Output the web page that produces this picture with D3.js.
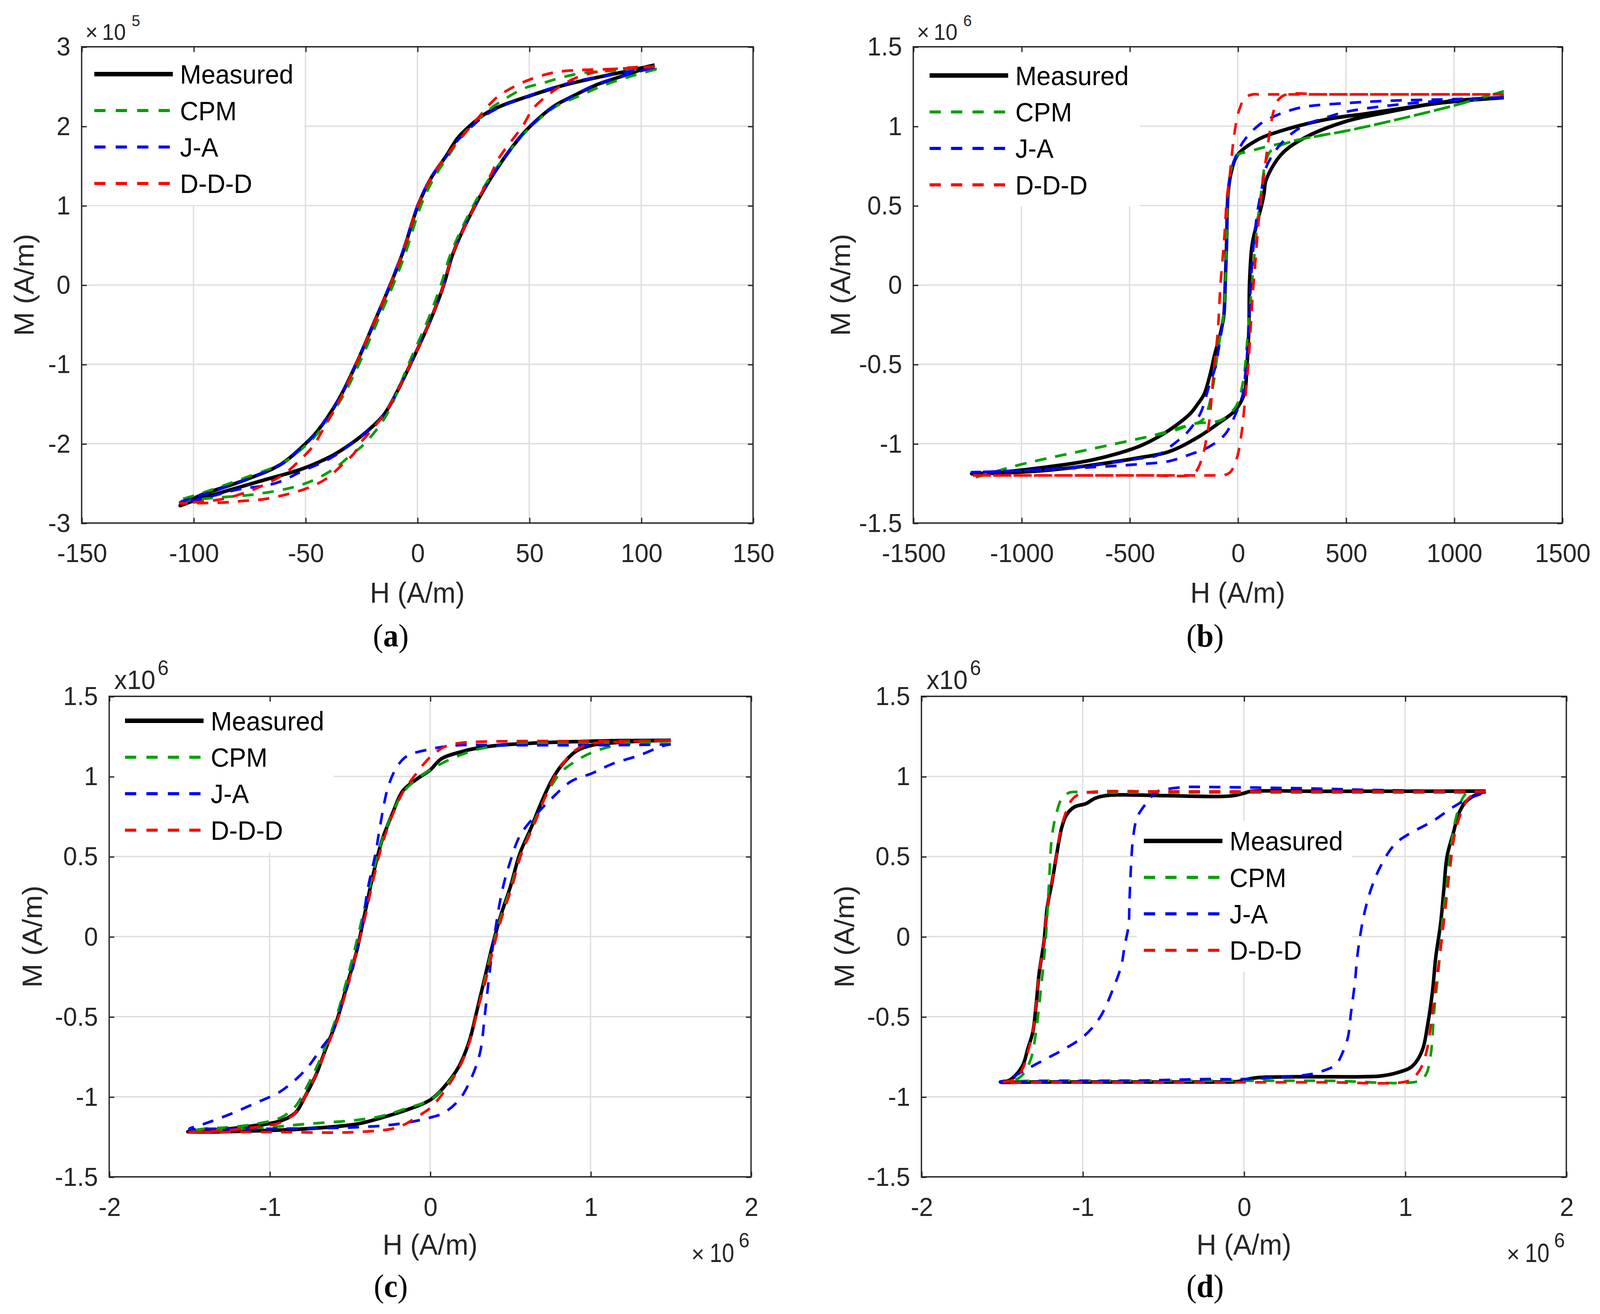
<!DOCTYPE html>
<html>
<head>
<meta charset="utf-8">
<script src="https://cdn.jsdelivr.net/npm/d3@7"></script>
<style>
  html, body { margin: 0; padding: 0; background: #fff; overflow: hidden; }
  #chart { display: block; width: 100vw; height: 100vh; }
  text { font-family: "Liberation Sans", Arial, Helvetica, sans-serif; }
</style>
</head>
<body>
<svg id="chart"></svg>
<script>
// series
var seriesNames = ["Measured", "CPM", "J-A", "D-D-D"];
var seriesColors = ["#000000", "#00a000", "#0000ff", "#ff0000"];

// tick values
var aHTicks = [-150, -100, -50, 0, 50, 100, 150];
var aMTicks = [-3, -2, -1, 0, 1, 2, 3];
var bHTicks = [-1500, -1000, -500, 0, 500, 1000, 1500];
var bMTicks = [-1.5, -1, -0.5, 0, 0.5, 1, 1.5];
var cdHTicks = [-2, -1, 0, 1, 2];
var cdMTicks = [-1.5, -1, -0.5, 0, 0.5, 1, 1.5];

// (a) H in A/m, M in 1e5 A/m  -- loop: descending branch then ascending branch
var aMeasured = [[106,2.77],[95,2.7],[83,2.63],[66,2.52],[50.5,2.385],[37,2.25],[30,2.15],[23.3,2.0],[18,1.85],[13,1.63],[6.2,1.35],[0.3,1.0],[-6.6,0.4],[-12.1,0],[-18.5,-0.42],[-27.4,-1.0],[-35.1,-1.44],[-44.9,-1.85],[-50,-2.0],[-61,-2.26],[-77.3,-2.46],[-97.7,-2.66],[-106,-2.78],
  [-100,-2.72],[-85.8,-2.6],[-68.7,-2.46],[-51.7,-2.32],[-38,-2.15],[-29.6,-2.0],[-22.7,-1.85],[-15.1,-1.64],[-10.8,-1.44],[-3.1,-1.0],[6.2,-0.42],[11.8,0],[16,0.4],[25.8,1.0],[35,1.44],[45,1.83],[50.5,2.0],[61,2.25],[70,2.385],[80,2.52],[91.5,2.63],[106,2.77]];
var aCPM = [[107,2.72],[90,2.7],[74,2.67],[64,2.61],[57,2.55],[48,2.48],[39.5,2.35],[32.6,2.22],[26.7,2.07],[20,1.88],[14,1.63],[7.5,1.35],[1.6,1.0],[-5.3,0.4],[-10.8,0],[-17.2,-0.42],[-26.1,-1.0],[-34,-1.44],[-44,-1.85],[-49,-2.0],[-60,-2.24],[-77,-2.43],[-98,-2.64],[-107,-2.72],
  [-90,-2.68],[-73,-2.64],[-54.3,-2.54],[-44.9,-2.44],[-36.4,-2.3],[-30,-2.15],[-23.6,-2.0],[-13.8,-1.64],[-4,-1.0],[5,-0.42],[10.5,0],[15,0.4],[25,1.0],[34.5,1.44],[45,1.82],[51,2.0],[62,2.25],[72.7,2.385],[82,2.5],[92,2.6],[107,2.72]];
var aJA = [[106,2.74],[95,2.69],[83,2.63],[75,2.59],[66,2.53],[50.5,2.39],[37,2.24],[30,2.13],[23.3,1.97],[18,1.82],[13,1.62],[6.2,1.36],[0.3,1.02],[-6.6,0.42],[-12.1,0.02],[-18.5,-0.42],[-27.4,-1.0],[-35.1,-1.44],[-44.9,-1.85],[-50,-2.0],[-61,-2.26],[-77.3,-2.46],[-97.7,-2.66],[-106,-2.74],
  [-91.7,-2.66],[-80.7,-2.58],[-63.6,-2.5],[-51.7,-2.35],[-38,-2.17],[-29.6,-2.0],[-22.7,-1.85],[-15.1,-1.64],[-10.8,-1.44],[-3.1,-1.0],[6.2,-0.42],[11.8,0],[16,0.4],[25.8,1.0],[35,1.44],[45,1.83],[50.5,2.0],[61,2.25],[70,2.385],[80,2.52],[91.5,2.63],[106,2.74]];
var aDDD = [[106,2.75],[87,2.72],[68,2.7],[60,2.67],[50.5,2.59],[42,2.48],[35,2.35],[27,2.1],[21,1.9],[13,1.63],[6.2,1.35],[0.3,1.0],[-6.6,0.4],[-12.1,0],[-18.5,-0.42],[-27.4,-1.0],[-33,-1.35],[-36.4,-1.54],[-41.5,-1.79],[-46.6,-2.03],[-52.6,-2.21],[-59.4,-2.38],[-67,-2.5],[-77.3,-2.62],[-87.5,-2.7],[-96,-2.73],[-106,-2.75],
  [-85.8,-2.74],[-77.3,-2.72],[-68.7,-2.7],[-58.5,-2.64],[-49.1,-2.56],[-40.6,-2.44],[-33.4,-2.26],[-27.9,-2.11],[-25.7,-2.0],[-22,-1.88],[-15.1,-1.64],[-10.8,-1.44],[-3.1,-1.0],[6.2,-0.42],[11.8,0],[16,0.4],[25.8,1.0],[33,1.4],[36.5,1.6],[47,2.0],[52,2.23],[61.6,2.46],[71,2.61],[83,2.7],[96,2.74],[106,2.75]];

// (b) H in A/m, M in 1e6 A/m
var bMeasured = [[1230,1.18],[1000,1.16],[800,1.12],[600,1.08],[400,1.04],[200,0.97],[100,0.92],[0,0.82],[-30,0.71],[-45,0.57],[-52,0.25],[-58,0],[-65,-0.2],[-81,-0.31],[-107,-0.44],[-127,-0.56],[-156,-0.69],[-185,-0.75],[-219,-0.81],[-271,-0.87],[-346,-0.94],[-444,-1.01],[-550,-1.06],[-700,-1.11],[-900,-1.15],[-1100,-1.18],[-1230,-1.19],
  [-1100,-1.185],[-900,-1.17],[-700,-1.14],[-461,-1.09],[-317,-1.05],[-185,-0.96],[-87,-0.87],[-12,-0.79],[29,-0.69],[43,-0.5],[52,-0.25],[54,0],[66,0.25],[87,0.38],[110,0.5],[121,0.57],[131,0.66],[200,0.82],[300,0.92],[500,1.03],[700,1.09],[900,1.14],[1230,1.18]];
var bCPM = [[1230,1.22],[1000,1.13],[700,1.03],[500,0.97],[300,0.92],[200,0.89],[130,0.87],[50,0.84],[0,0.82],[-30,0.73],[-45,0.57],[-52,0.25],[-58,0],[-66,-0.2],[-82,-0.33],[-98,-0.48],[-112,-0.62],[-133,-0.76],[-150,-0.83],[-173,-0.86],[-271,-0.9],[-369,-0.94],[-461,-0.97],[-700,-1.04],[-1000,-1.13],[-1230,-1.22],
  [-1000,-1.13],[-700,-1.04],[-461,-0.97],[-300,-0.92],[-202,-0.875],[-75,-0.85],[-6,-0.76],[23,-0.62],[35,-0.5],[46,-0.31],[58,-0.12],[69,0.06],[81,0.25],[95,0.44],[110,0.6],[125,0.75],[150,0.84],[200,0.88],[300,0.92],[500,0.97],[700,1.03],[1000,1.13],[1230,1.22]];
var bJA = [[1230,1.18],[1000,1.17],[700,1.16],[500,1.145],[300,1.12],[200,1.08],[150,1.05],[100,1.01],[35,0.92],[0,0.84],[-30,0.72],[-45,0.57],[-52,0.25],[-58,0],[-66,-0.2],[-89,-0.41],[-104,-0.52],[-133,-0.64],[-173,-0.81],[-231,-0.925],[-294,-1.0],[-375,-1.075],[-461,-1.095],[-700,-1.14],[-1000,-1.17],[-1230,-1.18],
  [-1000,-1.17],[-700,-1.15],[-461,-1.13],[-317,-1.11],[-225,-1.07],[-133,-1.02],[-58,-0.94],[-12,-0.82],[23,-0.69],[35,-0.56],[43,-0.44],[52,-0.25],[58,-0.06],[66,0.13],[78,0.32],[92,0.47],[110,0.6],[131,0.74],[200,0.89],[300,1.0],[400,1.05],[500,1.09],[700,1.13],[1000,1.165],[1230,1.18]];
var bDDD = [[1230,1.2],[400,1.2],[100,1.2],[69,1.2],[35,1.18],[6,1.1],[-17,0.94],[-30,0.78],[-40,0.65],[-49,0.566],[-63,0.28],[-80,0],[-92,-0.29],[-103,-0.44],[-112,-0.56],[-120,-0.69],[-130,-0.84],[-145,-0.97],[-167,-1.1],[-196,-1.18],[-230,-1.2],[-400,-1.2],[-1230,-1.2],
  [-400,-1.2],[-100,-1.2],[-69,-1.2],[-35,-1.18],[-6,-1.1],[17,-0.94],[29,-0.79],[40,-0.64],[49,-0.5],[58,-0.31],[66,-0.12],[75,0.04],[84,0.19],[95,0.38],[110,0.566],[119,0.67],[131,0.8],[143,0.92],[167,1.1],[190,1.17],[226,1.2],[400,1.2],[1230,1.2]];

// (c) H in 1e6 A/m, M in 1e6 A/m
var cMeasured = [[1.5,1.225],[1.0,1.22],[0.5,1.2],[0.31,1.18],[0.18,1.15],[0.07,1.11],[0,1.04],[-0.073,0.99],[-0.17,0.91],[-0.23,0.78],[-0.3,0.6],[-0.36,0.365],[-0.41,0.13],[-0.455,-0.08],[-0.52,-0.31],[-0.58,-0.52],[-0.65,-0.7],[-0.71,-0.86],[-0.775,-0.99],[-0.84,-1.1],[-0.93,-1.15],[-1.09,-1.18],[-1.25,-1.2],[-1.41,-1.21],[-1.51,-1.218],
  [-1.4,-1.22],[-1.0,-1.21],[-0.775,-1.2],[-0.455,-1.17],[-0.3,-1.13],[-0.14,-1.08],[0,-1.02],[0.086,-0.94],[0.18,-0.81],[0.245,-0.65],[0.29,-0.47],[0.34,-0.26],[0.39,-0.05],[0.44,0.13],[0.5,0.31],[0.56,0.52],[0.63,0.68],[0.69,0.83],[0.755,0.97],[0.82,1.07],[0.914,1.16],[1.01,1.195],[1.14,1.21],[1.3,1.22],[1.5,1.225]];
var cCPM = [[1.5,1.22],[1.0,1.21],[0.5,1.2],[0.3,1.17],[0.18,1.13],[0.07,1.08],[0,1.04],[-0.073,0.99],[-0.17,0.9],[-0.23,0.78],[-0.3,0.6],[-0.36,0.38],[-0.42,0.13],[-0.47,-0.08],[-0.53,-0.31],[-0.59,-0.52],[-0.65,-0.68],[-0.71,-0.82],[-0.775,-0.95],[-0.84,-1.06],[-0.93,-1.13],[-1.09,-1.17],[-1.25,-1.19],[-1.41,-1.2],[-1.5,-1.215],
  [-1.4,-1.21],[-1.0,-1.19],[-0.775,-1.17],[-0.455,-1.145],[-0.3,-1.12],[-0.14,-1.07],[0,-1.02],[0.086,-0.94],[0.18,-0.82],[0.245,-0.66],[0.29,-0.49],[0.34,-0.27],[0.39,-0.06],[0.44,0.12],[0.5,0.3],[0.56,0.5],[0.63,0.67],[0.69,0.81],[0.755,0.94],[0.82,1.03],[0.914,1.1],[1.01,1.15],[1.14,1.19],[1.3,1.21],[1.5,1.22]];
var cJA = [[1.5,1.2],[1.14,1.195],[0.5,1.195],[0.18,1.195],[0.05,1.18],[0,1.17],[-0.14,1.13],[-0.2,1.07],[-0.26,0.94],[-0.31,0.7],[-0.34,0.52],[-0.39,0.29],[-0.42,0.08],[-0.455,-0.08],[-0.49,-0.23],[-0.55,-0.42],[-0.61,-0.6],[-0.68,-0.7],[-0.775,-0.83],[-0.93,-0.965],[-1.09,-1.04],[-1.25,-1.11],[-1.41,-1.17],[-1.5,-1.2],
  [-1.4,-1.2],[-1.0,-1.2],[-0.455,-1.19],[-0.2,-1.17],[0,-1.13],[0.086,-1.1],[0.18,-1.02],[0.245,-0.91],[0.31,-0.73],[0.34,-0.5],[0.37,-0.23],[0.4,0],[0.45,0.29],[0.5,0.47],[0.56,0.63],[0.66,0.76],[0.755,0.86],[0.88,0.97],[1.01,1.02],[1.14,1.08],[1.3,1.13],[1.45,1.19],[1.5,1.2]];
var cDDD = [[1.5,1.225],[1.0,1.22],[0.5,1.22],[0.2,1.21],[0.1,1.19],[0,1.12],[-0.1,1.0],[-0.17,0.9],[-0.23,0.77],[-0.3,0.57],[-0.36,0.33],[-0.41,0.1],[-0.46,-0.1],[-0.52,-0.33],[-0.58,-0.53],[-0.65,-0.71],[-0.71,-0.86],[-0.775,-0.99],[-0.84,-1.1],[-0.93,-1.16],[-1.09,-1.19],[-1.25,-1.21],[-1.41,-1.22],[-1.5,-1.22],
  [-1.4,-1.22],[-1.0,-1.22],[-0.455,-1.22],[-0.2,-1.19],[-0.073,-1.12],[0,-1.07],[0.086,-0.97],[0.18,-0.82],[0.245,-0.66],[0.29,-0.48],[0.35,-0.26],[0.4,-0.05],[0.45,0.13],[0.51,0.31],[0.57,0.52],[0.64,0.68],[0.7,0.83],[0.76,0.97],[0.82,1.07],[0.914,1.17],[1.01,1.205],[1.14,1.215],[1.5,1.225]];

// (d) H in 1e6 A/m, M in 1e6 A/m
var dMeasured = [[1.5,0.908],[0.5,0.907],[0.04,0.906],[0,0.895],[-0.08,0.878],[-0.5,0.88],[-0.83,0.883],[-0.92,0.865],[-0.98,0.83],[-1.05,0.81],[-1.1,0.76],[-1.13,0.68],[-1.16,0.52],[-1.19,0.34],[-1.22,0.18],[-1.24,-0.03],[-1.27,-0.23],[-1.29,-0.44],[-1.31,-0.6],[-1.34,-0.7],[-1.37,-0.8],[-1.42,-0.87],[-1.46,-0.9],[-1.51,-0.908],
  [-1.3,-0.908],[-0.5,-0.908],[-0.16,-0.908],[-0.037,-0.905],[0.027,-0.89],[0.09,-0.88],[0.41,-0.875],[0.725,-0.875],[0.85,-0.87],[0.95,-0.85],[1.03,-0.82],[1.07,-0.78],[1.11,-0.7],[1.14,-0.55],[1.17,-0.34],[1.19,-0.13],[1.22,0.08],[1.24,0.29],[1.26,0.5],[1.3,0.65],[1.33,0.76],[1.37,0.835],[1.42,0.875],[1.5,0.908]];
var dCPM = [[1.5,0.9],[0.5,0.9],[0,0.9],[-0.5,0.9],[-0.99,0.9],[-1.08,0.9],[-1.13,0.86],[-1.16,0.78],[-1.19,0.63],[-1.21,0.31],[-1.23,-0.03],[-1.26,-0.34],[-1.29,-0.6],[-1.32,-0.76],[-1.37,-0.86],[-1.43,-0.9],[-1.5,-0.905],
  [-1.3,-0.9],[-0.5,-0.9],[0.5,-0.9],[1.09,-0.9],[1.13,-0.86],[1.16,-0.73],[1.18,-0.47],[1.21,-0.18],[1.23,0.08],[1.26,0.34],[1.29,0.6],[1.32,0.76],[1.36,0.87],[1.39,0.9],[1.5,0.9]];
var dJA = [[1.5,0.9],[1.2,0.91],[0.8,0.915],[0.4,0.925],[0.09,0.93],[-0.23,0.934],[-0.35,0.934],[-0.48,0.92],[-0.55,0.9],[-0.59,0.85],[-0.63,0.8],[-0.663,0.742],[-0.687,0.62],[-0.698,0.48],[-0.704,0.357],[-0.71,0.21],[-0.715,0.07],[-0.74,-0.06],[-0.76,-0.18],[-0.805,-0.31],[-0.89,-0.5],[-0.99,-0.62],[-1.11,-0.7],[-1.24,-0.77],[-1.37,-0.84],[-1.46,-0.89],[-1.51,-0.91],
  [-1.3,-0.905],[-0.7,-0.9],[-0.23,-0.89],[0,-0.89],[0.25,-0.875],[0.41,-0.86],[0.5,-0.835],[0.57,-0.8],[0.61,-0.73],[0.645,-0.63],[0.665,-0.47],[0.687,-0.3],[0.704,-0.12],[0.722,0.01],[0.746,0.14],[0.78,0.27],[0.829,0.4],[0.9,0.53],[0.95,0.59],[1.04,0.65],[1.17,0.72],[1.3,0.81],[1.39,0.86],[1.5,0.9]];
var dDDD = [[1.5,0.906],[0.5,0.906],[0,0.906],[-0.5,0.906],[-0.92,0.905],[-1.02,0.89],[-1.07,0.85],[-1.11,0.76],[-1.14,0.65],[-1.16,0.52],[-1.19,0.34],[-1.22,0.18],[-1.24,-0.03],[-1.27,-0.23],[-1.29,-0.44],[-1.31,-0.6],[-1.34,-0.72],[-1.37,-0.82],[-1.42,-0.89],[-1.5,-0.91],
  [-1.3,-0.91],[-0.5,-0.91],[0.5,-0.91],[0.98,-0.91],[1.04,-0.89],[1.09,-0.835],[1.13,-0.73],[1.16,-0.55],[1.185,-0.34],[1.22,-0.08],[1.25,0.18],[1.28,0.44],[1.31,0.65],[1.35,0.78],[1.39,0.86],[1.44,0.895],[1.5,0.906]];

// layout (in 1568x1236 units, stretched to the window)
var panels = [
  {tag: "a", left: 80, top: 44, right: 738, bottom: 492, xDom: [-150, 150], yDom: [-3, 3],
   xTicks: aHTicks, yTicks: aMTicks, loops: [aMeasured, aCPM, aJA, aDDD],
   legend: {x: 80, y: 44, w: 218, h: 149, lineX: 92.4, rowY: 69.7},
   mLabelX: 33, hLabelY: 567, tagX: 383, tagY: 608, exp: "5", expStyle: "times", bottomExp: false},
  {tag: "b", left: 895, top: 44, right: 1531, bottom: 492, xDom: [-1500, 1500], yDom: [-1.5, 1.5],
   xTicks: bHTicks, yTicks: bMTicks, loops: [bMeasured, bCPM, bJA, bDDD],
   legend: {x: 895, y: 44, w: 222, h: 150, lineX: 911, rowY: 71},
   mLabelX: 833, hLabelY: 567, tagX: 1181, tagY: 608, exp: "6", expStyle: "times", bottomExp: false},
  {tag: "c", left: 107, top: 655, right: 736, bottom: 1107, xDom: [-2, 2], yDom: [-1.5, 1.5],
   xTicks: cdHTicks, yTicks: cdMTicks, loops: [cMeasured, cCPM, cJA, cDDD],
   legend: {x: 107, y: 655, w: 220, h: 147, lineX: 122.5, rowY: 678},
   mLabelX: 41, hLabelY: 1180, tagX: 383, tagY: 1220, exp: "6", expStyle: "x", bottomExp: true},
  {tag: "d", left: 903, top: 655, right: 1535, bottom: 1107, xDom: [-2, 2], yDom: [-1.5, 1.5],
   xTicks: cdHTicks, yTicks: cdMTicks, loops: [dMeasured, dCPM, dJA, dDDD],
   legend: {x: 1113, y: 771, w: 212, h: 143, lineX: 1121, rowY: 791},
   mLabelX: 837, hLabelY: 1180, tagX: 1181, tagY: 1220, exp: "6", expStyle: "x", bottomExp: true}
];

var axisColor = "#262626";
var gridColor = "#dedede";
var tickFont = 24.5;

var svg = d3.select("#chart")
  .attr("viewBox", "0 0 1568 1236")
  .attr("preserveAspectRatio", "none");

svg.append("rect").attr("width", 1568).attr("height", 1236).attr("fill", "#fff");

panels.forEach(function (p) {
  var x = d3.scaleLinear().domain(p.xDom).range([p.left, p.right]);
  var y = d3.scaleLinear().domain(p.yDom).range([p.bottom, p.top]);
  var g = svg.append("g").attr("class", "panel-" + p.tag);

  // grid
  g.append("g").selectAll("line").data(p.xTicks.slice(1, -1)).enter().append("line")
    .attr("x1", function (d) { return x(d); }).attr("x2", function (d) { return x(d); })
    .attr("y1", p.top).attr("y2", p.bottom)
    .attr("stroke", gridColor).attr("stroke-width", 1.3);
  g.append("g").selectAll("line").data(p.yTicks.slice(1, -1)).enter().append("line")
    .attr("y1", function (d) { return y(d); }).attr("y2", function (d) { return y(d); })
    .attr("x1", p.left).attr("x2", p.right)
    .attr("stroke", gridColor).attr("stroke-width", 1.3);

  // curves
  var line = d3.line()
    .x(function (d) { return x(d[0]); })
    .y(function (d) { return y(d[1]); })
    .curve(d3.curveCatmullRom.alpha(0.5));

  p.loops.forEach(function (loop, i) {
    g.append("path")
      .attr("d", line(loop))
      .attr("fill", "none")
      .attr("stroke", seriesColors[i])
      .attr("stroke-width", i === 0 ? 3.4 : 2.5)
      .attr("stroke-dasharray", i === 0 ? null : "11,9")
      .attr("stroke-linejoin", "round");
  });

  // legend
  var L = p.legend;
  var lg = g.append("g");
  lg.append("rect").attr("x", L.x + 1).attr("y", L.y + 1).attr("width", L.w - 1).attr("height", L.h - 1)
    .attr("fill", "#fff");
  seriesNames.forEach(function (name, i) {
    var ry = L.rowY + i * 34.3;
    lg.append("line")
      .attr("x1", L.lineX).attr("x2", L.lineX + 77)
      .attr("y1", ry).attr("y2", ry)
      .attr("stroke", seriesColors[i])
      .attr("stroke-width", i === 0 ? 4.2 : 2.9)
      .attr("stroke-dasharray", i === 0 ? null : "11,10");
    lg.append("text")
      .attr("x", L.lineX + 84).attr("y", ry).attr("dy", "0.36em")
      .attr("font-size", 25).attr("fill", "#000")
      .text(name);
  });

  // frame and ticks
  var xb = d3.axisBottom(x).tickValues(p.xTicks).tickSizeInner(-5).tickSizeOuter(0).tickPadding(19.5)
    .tickFormat(function (d) { return String(d); });
  var xt = d3.axisTop(x).tickValues(p.xTicks).tickSizeInner(-5).tickSizeOuter(0).tickFormat("");
  var yl = d3.axisLeft(y).tickValues(p.yTicks).tickSizeInner(-5).tickSizeOuter(0).tickPadding(11)
    .tickFormat(function (d) { return String(d); });
  var yr = d3.axisRight(y).tickValues(p.yTicks).tickSizeInner(-5).tickSizeOuter(0).tickFormat("");

  [[xb, "translate(0," + p.bottom + ")"], [xt, "translate(0," + p.top + ")"],
   [yl, "translate(" + p.left + ",0)"], [yr, "translate(" + p.right + ",0)"]].forEach(function (a) {
    var ag = g.append("g").attr("transform", a[1]).call(a[0]);
    ag.select(".domain").remove();
    ag.selectAll("line").attr("stroke", axisColor).attr("stroke-width", 1.2);
    ag.selectAll("text").attr("font-size", tickFont).attr("fill", axisColor)
      .attr("font-family", '"Liberation Sans", Arial, sans-serif');
  });

  g.append("rect")
    .attr("x", p.left).attr("y", p.top)
    .attr("width", p.right - p.left).attr("height", p.bottom - p.top)
    .attr("fill", "none").attr("stroke", axisColor).attr("stroke-width", 1.3);

  // axis labels
  g.append("text")
    .attr("x", (p.left + p.right) / 2).attr("y", p.hLabelY)
    .attr("text-anchor", "middle").attr("font-size", 27).attr("fill", axisColor)
    .text("H (A/m)");
  g.append("text")
    .attr("transform", "translate(" + p.mLabelX + "," + ((p.top + p.bottom) / 2) + ") rotate(-90)")
    .attr("text-anchor", "middle").attr("font-size", 27).attr("fill", axisColor)
    .text("M (A/m)");

  // exponent labels
  if (p.expStyle === "times") {
    g.append("text").attr("x", p.left + 3.6).attr("y", 37.5).attr("font-size", 21).attr("fill", axisColor).text("\u00d7");
    g.append("text").attr("x", p.left + 20).attr("y", 37.5).attr("font-size", 21).attr("fill", axisColor).text("10");
    g.append("text").attr("x", p.left + 49).attr("y", 24.5).attr("font-size", 15).attr("fill", axisColor).text(p.exp);
  } else {
    g.append("text").attr("x", p.left + 5).attr("y", p.top - 7).attr("font-size", 25).attr("fill", axisColor).text("x10");
    g.append("text").attr("x", p.left + 47.5).attr("y", p.top - 20).attr("font-size", 19.5).attr("fill", axisColor).text(p.exp);
  }
  if (p.bottomExp) {
    g.append("text").attr("x", p.right - 58.5).attr("y", p.bottom + 80).attr("font-size", 22).attr("fill", axisColor).text("\u00d7");
    g.append("text").attr("x", p.right - 40.5).attr("y", p.bottom + 80).attr("font-size", 25)
      .attr("textLength", 24).attr("lengthAdjust", "spacingAndGlyphs").attr("fill", axisColor).text("10");
    g.append("text").attr("x", p.right - 12).attr("y", p.bottom + 66).attr("font-size", 19).attr("fill", axisColor).text(p.exp);
  }

  // sub-figure tag
  var t = g.append("text")
    .attr("x", p.tagX).attr("y", p.tagY).attr("text-anchor", "middle")
    .attr("font-size", 30).attr("fill", "#000")
    .style("font-family", '"Liberation Serif", "DejaVu Serif", serif');
  t.append("tspan").text("(");
  t.append("tspan").attr("font-weight", "bold").text(p.tag);
  t.append("tspan").text(")");
});
</script>
</body>
</html>
